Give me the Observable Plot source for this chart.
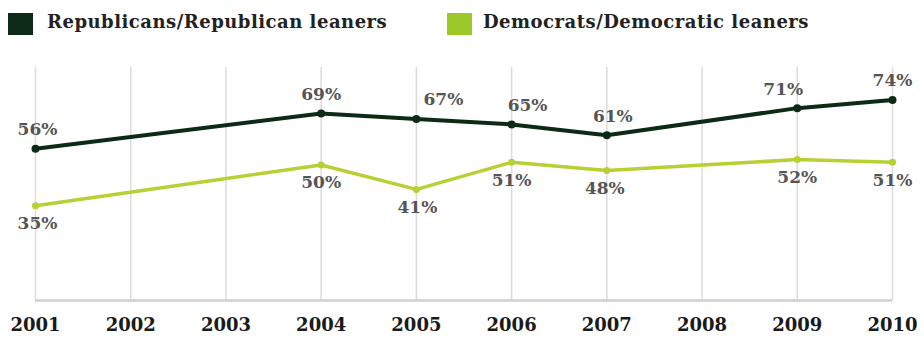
<!DOCTYPE html>
<html>
<head>
<meta charset="utf-8">
<script src="https://cdn.jsdelivr.net/npm/d3@7"></script>
<script src="https://cdn.jsdelivr.net/npm/@observablehq/plot@0.6"></script>
<style>
  html, body { margin: 0; padding: 0; background: #fff; }
  #legend { position: relative; height: 46px; width: 924px; font-family: "DejaVu Serif", serif; font-weight: bold; font-size: 18px; color: #222; }
  .sw { position: absolute; top: 13px; width: 25px; height: 22px; }
  .lt { position: absolute; top: 11px; white-space: nowrap; letter-spacing: 0.5px; }
</style>
</head>
<body>
<div id="legend"></div>
<div id="chart"></div>
<script>
// ---- data ----
const years = [2001, 2002, 2003, 2004, 2005, 2006, 2007, 2008, 2009, 2010];
const surveyYears = [2001, 2004, 2005, 2006, 2007, 2009, 2010];
const republicans = [56, 69, 67, 65, 61, 71, 74];
const democrats = [35, 50, 41, 51, 48, 52, 51];
const seriesNames = ["Republicans/Republican leaners", "Democrats/Democratic leaners"];

// ---- styling ----
const colors = ["#0c2a14", "#b5d133"];
const swatchColors = ["#0d2a16", "#9cc82a"];
const repDx = [2, 0, 27, 16, 6, -14, 0];
const demDx = [2, 0, 1, 0, -2, 0, 0];

const legend = document.getElementById("legend");
const legendPos = [[8, 47], [447, 483]];
seriesNames.forEach((n, i) => {
  const s = document.createElement("div");
  s.className = "sw"; s.style.left = legendPos[i][0] + "px"; s.style.background = swatchColors[i];
  legend.appendChild(s);
  const t = document.createElement("div");
  t.className = "lt"; t.style.left = legendPos[i][1] + "px"; t.textContent = n;
  legend.appendChild(t);
});

const rows = [];
surveyYears.forEach((y, i) => {
  rows.push({year: y, value: republicans[i], series: seriesNames[0], dx: repDx[i]});
  rows.push({year: y, value: democrats[i], series: seriesNames[1], dx: demDx[i]});
});
const rep = rows.filter(d => d.series === seriesNames[0]);
const dem = rows.filter(d => d.series === seriesNames[1]);

const font = "DejaVu Serif, serif";
const chart = Plot.plot({
  width: 924,
  height: 292,
  marginTop: 21,
  marginBottom: 38,
  marginLeft: 35,
  marginRight: 32,
  style: {fontFamily: font, background: "#fff"},
  x: {domain: [2001, 2010], ticks: years, tickFormat: d => String(d), label: null},
  y: {domain: [0, 86], axis: null},
  marks: [
    Plot.ruleX(years, {x: d => d, y1: 0, y2: 86, stroke: "#dcdcdc", strokeWidth: 1.5}),
    Plot.ruleY([0], {stroke: "#cfcfcf", strokeWidth: 2.5}),
    Plot.axisX({ticks: years, tickFormat: d => String(d), label: null, tickSize: 0, tickPadding: 18, fontSize: 18, fontWeight: "bold", fill: "#1a1a1a", fontFamily: font}),
    Plot.line(dem, {x: "year", y: "value", stroke: colors[1], strokeWidth: 3.5}),
    Plot.dot(dem, {x: "year", y: "value", fill: colors[1], r: 3.5}),
    Plot.line(rep, {x: "year", y: "value", stroke: colors[0], strokeWidth: 4}),
    Plot.dot(rep, {x: "year", y: "value", fill: colors[0], r: 4}),
    Plot.text(rep, {x: "year", y: "value", text: d => d.value + "%", dy: -19, fontSize: 17, fontWeight: "bold", fill: "#555", fontFamily: font}),
    Plot.text(dem, {x: "year", y: "value", text: d => d.value + "%", dy: 18, fontSize: 17, fontWeight: "bold", fill: "#555", fontFamily: font})
  ]
});
document.getElementById("chart").appendChild(chart);
// apply per-label horizontal nudges
const textGroups = chart.querySelectorAll("g[aria-label='text']");
[[textGroups[0], rep], [textGroups[1], dem]].forEach(([g, data]) => {
  if (!g) return;
  g.querySelectorAll("text").forEach((t, i) => {
    const tr = t.getAttribute("transform") || "";
    const m = /translate\(([-\d.]+),([-\d.]+)\)/.exec(tr);
    if (m) t.setAttribute("transform", `translate(${+m[1] + data[i].dx},${m[2]})`);
    else { const x = +t.getAttribute("x"); t.setAttribute("x", x + data[i].dx); }
  });
});
</script>
</body>
</html>
